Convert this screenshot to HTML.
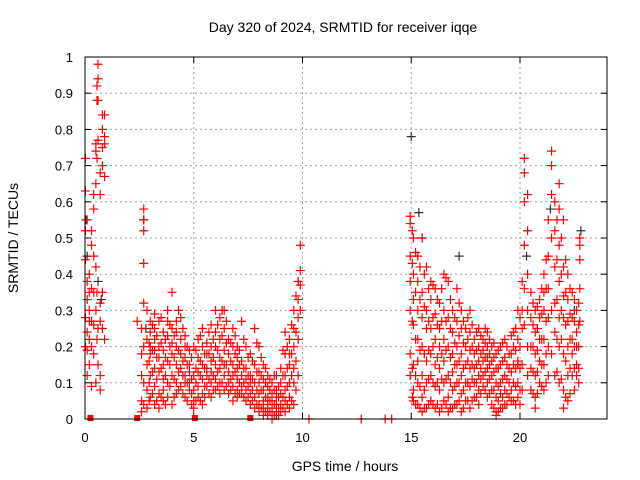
<!DOCTYPE html>
<html><head><meta charset="utf-8"><style>
html,body{margin:0;padding:0;background:#fff}
svg{display:block;font-family:"Liberation Sans",sans-serif}
</style></head><body>
<svg id="chart" width="640" height="480">
<text x="343" y="32" font-size="14" text-anchor="middle">Day 320 of 2024, SRMTID for receiver iqqe</text>
<text x="0" y="0" font-size="14" text-anchor="middle" transform="translate(18,238) rotate(-90)">SRMTID / TECUs</text>
<text x="345" y="471" font-size="14" text-anchor="middle">GPS time / hours</text>
<g id="grid"></g>
<g id="ticks"></g>
<g id="marks"></g>
<rect x="85" y="57" width="522" height="362" fill="none" stroke="#000" stroke-width="1"/>
</svg>
<script>
const xTicks=[0,5,10,15,20];
const yTicks=[0,0.1,0.2,0.3,0.4,0.5,0.6,0.7,0.8,0.9,1];
const yTickLabels=["0","0.1","0.2","0.3","0.4","0.5","0.6","0.7","0.8","0.9","1"];
const groupTimes=[0.02,0.1,0.2,0.3,0.4,0.5,0.55,0.6,0.7,0.8,0.9,
2.4,2.6,2.7,2.85,3.0,3.2,3.4,3.6,3.8,4.0,4.2,4.4,4.6,4.8,5.0,5.2,5.4,5.6,5.8,6.0,6.2,6.4,6.6,6.8,7.0,7.2,7.4,7.6,7.8,8.0,8.2,8.4,8.6,8.8,9.0,9.2,9.4,9.6,9.8,9.9,
14.95,15.1,15.3,15.5,15.7,15.9,16.1,16.3,16.5,16.7,16.9,17.1,17.3,17.5,17.7,17.9,18.1,18.3,18.5,18.7,18.9,19.1,19.3,19.5,19.7,19.9,20.1,20.2,20.35,20.5,20.7,20.9,21.1,21.3,21.45,21.6,21.8,22.0,22.2,22.4,22.6,22.75];
const groupValues=[
[0.72,0.63,0.52,0.44,0.28,0.2],[0.55,0.38,0.33,0.24,0.19,0.12],[0.4,0.35,0.3,0.27,0.22,0.15],[0.52,0.48,0.36,0.27,0.2,0.09],[0.62,0.58,0.45,0.35,0.26,0.18],[0.76,0.74,0.65,0.42,0.3,0.1],[0.88,0.92,0.72,0.35,0.22],[0.98,0.94,0.88,0.77,0.25,0.15],[0.68,0.62,0.32,0.27,0.12,0.08],[0.84,0.8,0.75,0.7,0.35,0.25],[0.84,0.78,0.76,0.67,0.22],
[0.27],[0.25,0.18,0.12,0.05,0.02],[0.58,0.55,0.52,0.43,0.32,0.2,0.1,0.04],[0.3,0.22,0.15,0.08,0.03],[0.27,0.24,0.2,0.18,0.12,0.06],[0.29,0.25,0.22,0.19,0.14,0.09,0.04],[0.27,0.2,0.17,0.13,0.07,0.03],[0.24,0.19,0.15,0.11,0.08,0.05],[0.3,0.27,0.23,0.16,0.1,0.06],[0.35,0.25,0.21,0.18,0.12,0.04],[0.27,0.24,0.2,0.15,0.1,0.07],[0.28,0.22,0.18,0.14,0.09],[0.23,0.2,0.17,0.12,0.1,0.06],[0.19,0.15,0.13,0.1,0.08],[0.2,0.12,0.08,0.05,0.03],[0.22,0.17,0.13,0.09,0.06],[0.25,0.2,0.15,0.11,0.07,0.04],[0.21,0.18,0.14,0.12,0.09],[0.26,0.2,0.16,0.13,0.1,0.06],[0.3,0.24,0.2,0.15,0.11,0.08],[0.28,0.22,0.17,0.14,0.1,0.07],[0.3,0.25,0.19,0.15,0.12,0.08],[0.22,0.18,0.13,0.1,0.07],[0.25,0.2,0.15,0.12,0.09,0.05],[0.2,0.17,0.14,0.11,0.08,0.06],[0.27,0.16,0.12,0.09,0.07],[0.2,0.14,0.11,0.08,0.05],[0.18,0.12,0.1,0.07,0.04],[0.25,0.15,0.1,0.06,0.03],[0.2,0.13,0.1,0.07,0.04,0.02],[0.15,0.11,0.08,0.05,0.03,0.01],[0.12,0.09,0.06,0.04,0.02,0.01],[0.1,0.07,0.05,0.03,0.02,0.0],[0.12,0.08,0.06,0.04,0.02,0.01],[0.14,0.1,0.07,0.04,0.02],[0.24,0.18,0.12,0.08,0.05,0.02],[0.22,0.18,0.15,0.1,0.06,0.03],[0.3,0.25,0.2,0.14,0.1,0.04],[0.38,0.33,0.28,0.22,0.12],[0.48,0.41,0.37,0.3],
[0.56,0.54,0.45,0.38,0.3,0.18,0.12],[0.5,0.4,0.33,0.26,0.15,0.08,0.05],[0.45,0.38,0.3,0.22,0.16,0.1,0.04],[0.5,0.35,0.28,0.2,0.12,0.06,0.02],[0.42,0.3,0.25,0.16,0.1,0.03],[0.38,0.33,0.25,0.18,0.12,0.05],[0.36,0.29,0.22,0.15,0.09,0.03],[0.32,0.25,0.2,0.14,0.08,0.02],[0.4,0.3,0.22,0.16,0.1,0.05],[0.38,0.28,0.2,0.12,0.06,0.02],[0.3,0.24,0.18,0.13,0.08,0.03],[0.36,0.27,0.2,0.15,0.1,0.04],[0.3,0.25,0.18,0.12,0.07,0.02],[0.25,0.2,0.15,0.1,0.05],[0.3,0.24,0.19,0.14,0.09,0.03],[0.22,0.18,0.14,0.1,0.06],[0.25,0.2,0.16,0.12,0.08,0.04],[0.22,0.19,0.16,0.12,0.09],[0.24,0.2,0.17,0.14,0.1,0.06],[0.2,0.16,0.12,0.08,0.04],[0.18,0.14,0.1,0.06,0.02,0.01],[0.2,0.15,0.1,0.07,0.03],[0.22,0.17,0.12,0.08,0.04],[0.18,0.14,0.1,0.06],[0.24,0.2,0.15,0.1,0.05],[0.3,0.22,0.16,0.1,0.06],[0.38,0.3,0.25,0.15,0.08],[0.72,0.68,0.6,0.48,0.36,0.26],[0.62,0.52,0.4,0.3,0.2,0.12],[0.35,0.28,0.2,0.14,0.08],[0.3,0.24,0.18,0.12,0.06,0.03],[0.33,0.28,0.22,0.16,0.1],[0.4,0.35,0.3,0.22,0.15,0.08],[0.55,0.45,0.36,0.28,0.2,0.12],[0.74,0.7,0.62,0.5,0.3,0.18],[0.6,0.52,0.42,0.32,0.24,0.12],[0.65,0.58,0.48,0.38,0.28,0.2,0.1],[0.55,0.42,0.34,0.28,0.18,0.08,0.03],[0.4,0.33,0.27,0.2,0.12,0.05],[0.35,0.28,0.22,0.18,0.12],[0.3,0.24,0.2,0.15,0.12],[0.5,0.48,0.44,0.36,0.27]];
const extraTimes=[2.95,3.1,3.3,3.5,3.7,3.9,4.1,4.3,4.5,4.7,4.9,5.1,5.3,5.5,5.7,5.9,6.1,6.3,6.5,6.7,6.9,7.1,7.3,7.5,7.7,7.9,8.1,8.3,8.5,8.7,8.9,9.1,9.3,9.5,9.7,
15.05,15.2,15.4,15.6,15.8,16.0,16.2,16.4,16.6,16.8,17.0,17.2,17.4,17.6,17.8,18.0,18.2,18.4,18.6,18.8,19.0,19.2,19.4,19.6,19.8,20.0,20.6,20.8,21.0,21.2,21.7,21.9,22.1,22.3,22.5,22.7];
const extraValues=[
[0.21,0.16,0.1,0.05],[0.26,0.19,0.13,0.07],[0.23,0.17,0.11,0.05],[0.28,0.21,0.14,0.06],[0.22,0.17,0.12,0.04],[0.26,0.2,0.15,0.09],[0.23,0.17,0.11,0.06],[0.3,0.19,0.13,0.08],[0.25,0.16,0.12,0.07],[0.2,0.15,0.1,0.05],[0.17,0.11,0.07,0.04],
[0.19,0.14,0.1,0.05],[0.23,0.16,0.12,0.05],[0.18,0.14,0.09,0.06],[0.24,0.18,0.11,0.07],[0.22,0.17,0.12,0.08],[0.26,0.19,0.13,0.09],[0.3,0.23,0.16,0.1],[0.27,0.21,0.15,0.09],[0.21,0.16,0.11,0.08],[0.23,0.18,0.13,0.07],[0.19,0.15,0.1,0.07],[0.22,0.14,0.1,0.06],[0.17,0.12,0.09,0.06],[0.16,0.11,0.08,0.05],[0.21,0.13,0.08,0.04],
[0.17,0.12,0.08,0.03],[0.14,0.1,0.06,0.02],[0.11,0.08,0.05,0.02],[0.12,0.08,0.04,0.01],[0.09,0.06,0.03,0.01],[0.19,0.12,0.06,0.03],[0.2,0.14,0.09,0.04],[0.26,0.18,0.12,0.05],[0.34,0.24,0.16,0.08],
[0.52,0.43,0.27,0.14,0.06],[0.46,0.35,0.22,0.12,0.04],[0.42,0.33,0.19,0.09,0.03],[0.4,0.31,0.18,0.08,0.03],[0.36,0.27,0.19,0.11,0.04],[0.37,0.28,0.2,0.1,0.04],[0.33,0.26,0.17,0.1,0.04],[0.36,0.27,0.18,0.11,0.03],[0.39,0.27,0.19,0.11,0.04],[0.33,0.25,0.17,0.1,0.03],[0.28,0.21,0.15,0.09,0.04],[0.32,0.23,0.16,0.1,0.05],[0.27,0.21,0.14,0.08,0.03],[0.28,0.22,0.16,0.1,0.05],[0.26,0.2,0.15,0.11,0.05],[0.24,0.19,0.15,0.1,0.06],[0.23,0.18,0.14,0.11,0.07],[0.25,0.21,0.17,0.13,0.08],[0.22,0.18,0.15,0.11,0.07],[0.21,0.17,0.13,0.08,0.03],[0.19,0.14,0.09,0.05,0.02],[0.21,0.16,0.11,0.06,0.03],[0.2,0.15,0.11,0.07,0.04],[0.23,0.18,0.13,0.08,0.05],[0.25,0.19,0.14,0.09,0.04],[0.28,0.2,0.14,0.08,0.04],
[0.32,0.26,0.2,0.13,0.07],[0.31,0.25,0.19,0.13,0.07],[0.36,0.29,0.22,0.15,0.09],[0.44,0.36,0.27,0.18,0.1],[0.55,0.44,0.33,0.22,0.13],[0.5,0.4,0.3,0.22,0.11],[0.44,0.35,0.26,0.16,0.06],[0.36,0.29,0.22,0.14,0.07],[0.33,0.27,0.2,0.14,0.08],[0.32,0.26,0.2,0.14,0.1]];
const blackT=[0.05,0.1,0.6,0.75,2.7,2.8,6.3,9.8,15.0,15.35,15.5,17.2,19.9,20.3,21.4,22.5,22.8];
const blackV=[0.55,0.45,0.38,0.33,0.55,0.25,0.3,0.38,0.78,0.57,0.5,0.45,0.15,0.45,0.58,0.3,0.52];
const zeroSquareT=[0.25,2.4,5.05,7.6];
const zeroPlusT=[10.3,12.7,13.8,14.1];

const NS="http://www.w3.org/2000/svg";
const X0=85,X1=607,Y0=419,Y1=57,XMAX=24;
function xs(t){return X0+(X1-X0)*t/XMAX;}
function ys(v){return Y0-(Y0-Y1)*v;}
function mk(tag,attrs,parent){const e=document.createElementNS(NS,tag);for(const k in attrs)e.setAttribute(k,attrs[k]);parent.appendChild(e);return e;}
const grid=document.getElementById('grid'),ticks=document.getElementById('ticks'),marks=document.getElementById('marks');
yTicks.forEach((v,i)=>{
  const y=ys(v);
  if(i>0&&i<yTicks.length-1){const g=mk('line',{x1:X0,x2:X1,y1:y,y2:y,stroke:'#a0a0a0','stroke-dasharray':'2,3'},grid);
  
  }
  mk('line',{x1:X0,x2:X0+6,y1:y,y2:y,stroke:'#000'},ticks);
  mk('line',{x1:X1,x2:X1-6,y1:y,y2:y,stroke:'#000'},ticks);
  const t=mk('text',{x:X0-12,y:y+5,'font-size':13,'text-anchor':'end'},ticks);t.textContent=yTickLabels[i];
  
  
});
xTicks.forEach(v=>{
  const x=xs(v);
  if(v>0){const g=mk('line',{x1:x,x2:x,y1:Y0,y2:Y1,stroke:'#a0a0a0','stroke-dasharray':'2,3'},grid);
  
  }
  mk('line',{x1:x,x2:x,y1:Y0,y2:Y0-6,stroke:'#000'},ticks);
  mk('line',{x1:x,x2:x,y1:Y1,y2:Y1+6,stroke:'#000'},ticks);
  const t=mk('text',{x:x,y:Y0+23,'font-size':13,'text-anchor':'middle'},ticks);t.textContent=String(v);
  
  
});
function plus(t,v,col,name){
  const x=xs(t),y=ys(v);
  const p=mk('path',{d:`M${x-4.5},${y}H${x+4.5}M${x},${y-4.5}V${y+4.5}`,stroke:col,'stroke-width':1.2,fill:'none'},marks);
  
  
}
blackT.forEach((t,i)=>plus(t,blackV[i],'#303030','srmtid-point-black'));
groupTimes.forEach((t,i)=>groupValues[i].forEach(v=>plus(t,v,'#ff0000','srmtid-point')));
extraTimes.forEach((t,i)=>extraValues[i].forEach(v=>plus(t,v,'#ff0000','srmtid-point')));
zeroPlusT.forEach(t=>plus(t,0,'#ff0000','srmtid-point'));
zeroSquareT.forEach(t=>{
  const r=mk('rect',{x:xs(t)-3,y:Y0-4,width:6,height:6,fill:'#ff0000'},marks);
  
  
});
</script>
</body></html>
